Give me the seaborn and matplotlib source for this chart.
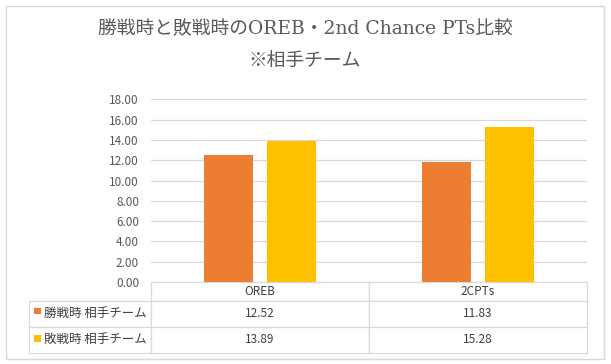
import matplotlib
matplotlib.use("Agg")
import matplotlib.pyplot as plt
import pandas as pd
import seaborn as sns
from matplotlib.patches import Rectangle
from matplotlib.table import Table

# data
categories = ["OREB", "2CPTs"]
series_names = ["勝戦時 相手チーム", "敗戦時 相手チーム"]
win_values = [12.52, 11.83]
lose_values = [13.89, 15.28]
colors = ["#ED7D31", "#FFC000"]
yticks = [0, 2, 4, 6, 8, 10, 12, 14, 16, 18]

title1 = "勝戦時と敗戦時のOREB・2nd Chance PTs比較"
title2 = "※相手チーム"

df = pd.DataFrame({
    "stat": categories * 2,
    "team": [series_names[0]] * 2 + [series_names[1]] * 2,
    "value": win_values + lose_values,
})

sns.set_style("white")
plt.rcParams["font.family"] = ["Noto Sans CJK JP", "DejaVu Sans"]

fig = plt.figure(figsize=(6.11, 3.64), dpi=100)
ax = fig.add_axes([151 / 611, 1 - 282 / 364, 436 / 611, 182.7 / 364])

sns.barplot(data=df, x="stat", y="value", hue="team", palette=colors,
            width=0.57, gap=0.21, ax=ax, legend=False, saturation=1,
            linewidth=0)

ax.set_ylim(0, 18)
ax.set_yticks(yticks)
ax.set_yticklabels([f"{v:.2f}" for v in yticks], color="#595959", fontsize=8.5)
ax.set_xticks([])
ax.set_xlabel("")
ax.set_ylabel("")
ax.tick_params(axis="y", length=0, pad=8.6)
ax.yaxis.grid(True, color="#D9D9D9", lw=0.9)
ax.set_axisbelow(True)
for s in ax.spines.values():
    s.set_visible(False)

# data table under the plot
tbl = Table(ax, bbox=[-0.28, -0.386, 1.28, 0.386])
edge = "#D9D9D9"
col_w = [0.28, 0.5, 0.5]
h_head, h_row = 0.104, 0.141
for j, cat in enumerate(categories):
    c = tbl.add_cell(0, j + 1, col_w[j + 1], h_head, text=cat, loc="center",
                     edgecolor=edge)
    c.get_text().set_color("#404040")
    c.get_text().set_fontsize(8.5)
rows = [win_values, lose_values]
for i, (name, vals) in enumerate(zip(series_names, rows)):
    c = tbl.add_cell(i + 1, 0, col_w[0], h_row, text=name, loc="left",
                     edgecolor=edge)
    c.PAD = 0.12
    c.get_text().set_color("#404040")
    c.get_text().set_fontsize(9)
    for j, v in enumerate(vals):
        c = tbl.add_cell(i + 1, j + 1, col_w[j + 1], h_row, text=f"{v:.2f}",
                         loc="center", edgecolor=edge)
        c.get_text().set_color("#404040")
        c.get_text().set_fontsize(8.5)
tbl.auto_set_font_size(False)
for c in tbl.get_celld().values():
    c.set_linewidth(0.9)
ax.add_table(tbl)

# legend keys inside the table
for i, col in enumerate(colors):
    y0 = [-0.177, -0.328][i]
    ax.add_patch(Rectangle((-0.268, y0), 0.016, 0.036, transform=ax.transAxes,
                           facecolor=col, edgecolor="none", clip_on=False))

fig.text(0.499, 1 - 29 / 364, title1, ha="center", va="center", fontsize=13.5,
         color="#595959", family=["DejaVu Serif", "Noto Sans CJK JP"])
fig.text(0.499, 1 - 61 / 364, title2, ha="center", va="center", fontsize=13.5,
         color="#595959", family=["DejaVu Serif", "Noto Sans CJK JP"])

fig.patches.append(Rectangle((6 / 611, 1 - 359 / 364), 598 / 611, 353 / 364,
                             transform=fig.transFigure, fill=False,
                             edgecolor="#D9D9D9", lw=1))

fig.savefig("out.png", dpi=100)
